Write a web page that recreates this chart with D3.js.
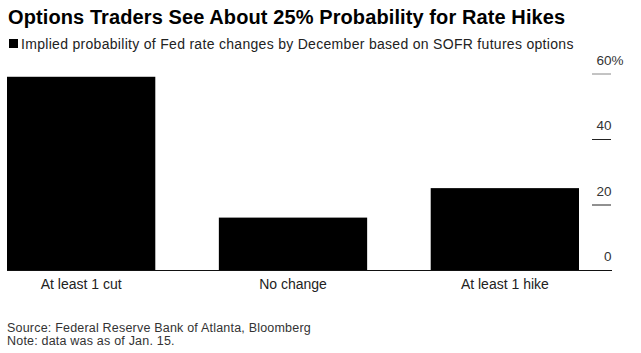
<!DOCTYPE html>
<html>
<head>
<meta charset="utf-8">
<script src="https://cdn.jsdelivr.net/npm/d3@7"></script>
<style>
  body { margin: 0; background: #fff; }
  text { font-family: "Liberation Sans", Arial, sans-serif; }
</style>
</head>
<body>
<svg id="chart" width="641" height="353"></svg>
<script>
const categories = ["At least 1 cut", "No change", "At least 1 hike"];
const probabilities = [59, 16, 25];
const tickValues = [0, 20, 40, 60];
const tickLabels = ["0", "20", "40", "60"];

const svg = d3.select("#chart");

svg.append("text").attr("x", 8).attr("y", 24)
  .attr("font-size", 20).attr("letter-spacing", 0.1).attr("font-weight", "bold").attr("fill", "#000")
  .text("Options Traders See About 25% Probability for Rate Hikes");

svg.append("rect").attr("x", 9).attr("y", 39).attr("width", 9).attr("height", 9).attr("fill", "#000");
svg.append("text").attr("x", 21).attr("y", 48.5)
  .attr("font-size", 14).attr("letter-spacing", 0.3).attr("fill", "#222")
  .text("Implied probability of Fed rate changes by December based on SOFR futures options");

const x = d3.scaleBand().domain(categories).range([7, 579]).paddingInner(0.3).paddingOuter(0);
const y = d3.scaleLinear().domain([0, 60]).range([270, 73.5]);

// bars
svg.append("g").selectAll("rect").data(categories).join("rect")
  .attr("x", d => x(d))
  .attr("width", x.bandwidth())
  .attr("y", (d, i) => y(probabilities[i]))
  .attr("height", (d, i) => y(0) - y(probabilities[i]))
  .attr("fill", "#000");

// right axis
const yAxis = d3.axisRight(y).tickValues(tickValues).tickSize(0).tickFormat("");
const ag = svg.append("g").attr("transform", "translate(592,0)").call(yAxis);
ag.select(".domain").remove();
ag.selectAll(".tick").each(function(d, i) {
  const g = d3.select(this);
  if (d !== 0) {
    g.append("line").attr("x1", 0).attr("x2", 19).attr("y1", 0).attr("y2", 0)
      .attr("stroke", d === 60 ? "#888" : "#222").attr("stroke-width", 1);
  }
  g.append("text").attr("x", 19.5).attr("y", -9.5)
    .attr("text-anchor", "end").attr("font-size", 13.5).attr("fill", "#333")
    .text(tickLabels[i]);
  if (d === 60) {
    g.append("text").attr("x", 19.5).attr("y", -9.5)
      .attr("text-anchor", "start").attr("font-size", 13.5).attr("fill", "#333")
      .text("%");
  }
});

// baseline
svg.append("line").attr("x1", 7).attr("x2", 612).attr("y1", y(0) + 0.5).attr("y2", y(0) + 0.5)
  .attr("stroke", "#111").attr("stroke-width", 1);

// category axis
const xAxis = d3.axisBottom(x).tickSize(0).tickPadding(0);
const xg = svg.append("g").attr("transform", `translate(0,${y(0)})`).call(xAxis);
xg.select(".domain").remove();
xg.selectAll("text").attr("font-size", 14).attr("fill", "#222")
  .attr("font-family", "Liberation Sans, Arial, sans-serif")
  .attr("dy", null).attr("y", 18.5);

svg.append("text").attr("x", 7).attr("y", 332).attr("font-size", 12.5).attr("letter-spacing", 0.2).attr("fill", "#333")
  .text("Source: Federal Reserve Bank of Atlanta, Bloomberg");
svg.append("text").attr("x", 7).attr("y", 345).attr("font-size", 12.5).attr("letter-spacing", 0.2).attr("fill", "#333")
  .text("Note: data was as of Jan. 15.");
</script>
</body>
</html>
